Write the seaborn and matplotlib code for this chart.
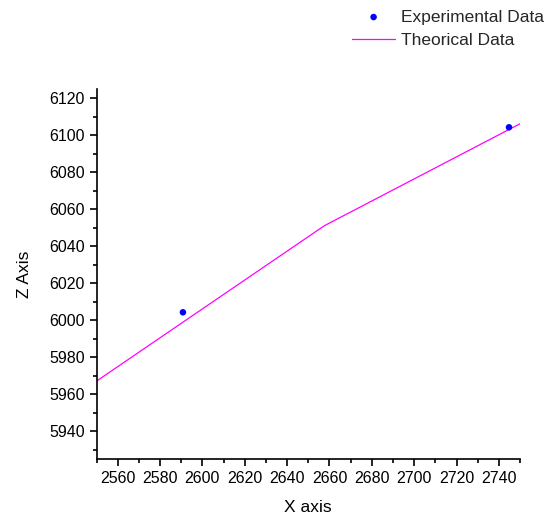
import numpy as np
import pandas as pd
import matplotlib
matplotlib.use("Agg")
import matplotlib.pyplot as plt
from matplotlib.ticker import MultipleLocator
import seaborn as sns

sns.set_style("ticks")
plt.rcParams['font.family'] = ['Liberation Sans', 'DejaVu Sans']

# --- data ---
exp_x = [2590.8, 2744.8]
exp_z = [6004.3, 6104.3]
theo_x = [2550.0, 2657.6, 2750.3]
theo_z = [5967.1, 6051.1, 6106.4]

exp_df = pd.DataFrame({'x': exp_x, 'z': exp_z})
theo_df = pd.DataFrame({'x': theo_x, 'z': theo_z})

fig = plt.figure(figsize=(5.5, 5.19), dpi=100)
ax = fig.add_axes([0.1755, 0.1156, 0.7700, 0.7129])

sns.scatterplot(data=exp_df, x='x', y='z', ax=ax, color='#0000ff', s=22,
                edgecolor='none', label='Experimental Data', zorder=3)
sns.lineplot(data=theo_df, x='x', y='z', ax=ax, color='#ff00ff', linewidth=0.9,
             label='Theorical Data', zorder=2)

ax.set_xlim(2550, 2750)
ax.set_ylim(5925, 6125)
ax.xaxis.set_minor_locator(MultipleLocator(10))
ax.yaxis.set_minor_locator(MultipleLocator(10))
ax.set_xticks(np.arange(2560, 2741, 20))
ax.set_yticks(np.arange(5940, 6121, 20))

ax.tick_params(which='major', direction='out', length=5, width=1.2,
               labelsize=11.5, colors='black')
ax.tick_params(which='minor', direction='out', length=3, width=1.2, colors='black')
for s in ['top', 'right']:
    ax.spines[s].set_visible(False)
for s in ['left', 'bottom']:
    ax.spines[s].set_linewidth(1.2)
    ax.spines[s].set_color('black')

ax.set_xlabel('X axis', fontsize=12.5, labelpad=10, color='black')
ax.set_ylabel('Z Axis', fontsize=12.5, labelpad=12, color='black')

ax.legend(loc='upper left', bbox_to_anchor=(0.603, 1.215), frameon=False,
          fontsize=12.5, handlelength=2.5, handletextpad=0.35,
          labelspacing=0.45, borderaxespad=0, borderpad=0)

fig.savefig('out.png', dpi=100, facecolor='white')
